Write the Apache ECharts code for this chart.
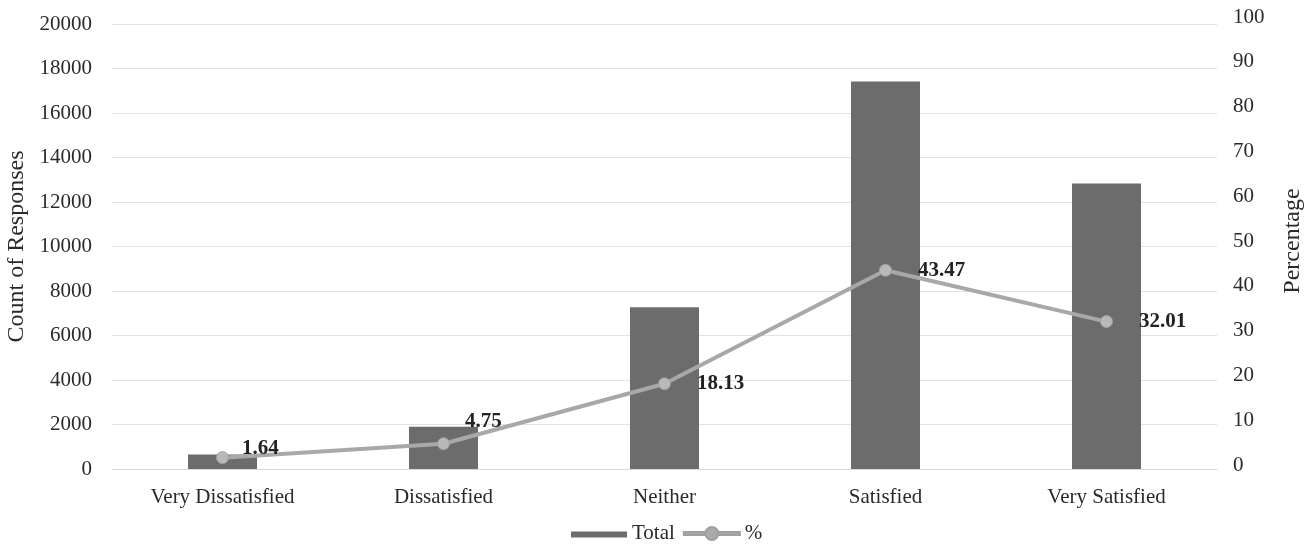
<!DOCTYPE html>
<html><head><meta charset="utf-8">
<script src="https://cdn.jsdelivr.net/npm/echarts@6/dist/echarts.min.js"></script>
<style>html,body{margin:0;padding:0;background:#fff}#c{width:1305px;height:550px}</style>
</head><body><div id="c"></div>
<script>
const categories = ['Very Dissatisfied','Dissatisfied','Neither','Satisfied','Very Satisfied'];
const totals = [657, 1903, 7265, 17418, 12826];
const percents = [1.64, 4.75, 18.13, 43.47, 32.01];
const leftTicks = {min:0, max:20000, interval:2000};
const rightTicks = {min:0, max:100, interval:10};

const labelOffsets = [[-13,-9],[-11,-22],[0,0],[0,0],[0,0]];
const font = 'Liberation Serif';
const txt = '#2a2a2a';
const chart = echarts.init(document.getElementById('c'));
chart.setOption({
  animation:false,
  backgroundColor:'#fff',
  textStyle:{fontFamily:font},
  legend:{
    left:566, top:518, itemWidth:56, itemHeight:13, itemGap:8,
    textStyle:{fontFamily:font, fontSize:21, color:txt},
    data:[
      {name:'Total', icon:'path://M0,0h0.2v0.01h-0.2z M0,4.5h56v6h-56z M0,12.99h0.2v0.01h-0.2z', itemStyle:{color:'#6c6c6c'}},
      {name:'%', icon:'path://M0,5h22v3h-22z M28,13 a6.5,6.5 0 1,1 0.01,0z M34,5h22v3h-22z', itemStyle:{color:'#aaaaaa'}}
    ]
  },
  grid:[
    {left:112, right:88, top:24, bottom:81, containLabel:false, outerBoundsMode:'none'},
    {left:112, right:88, top:17, bottom:85, containLabel:false, outerBoundsMode:'none'}
  ],
  xAxis:[
    {type:'category', gridIndex:0, data:categories,
     axisLine:{lineStyle:{color:'#d9d9d9'}}, axisTick:{show:false},
     axisLabel:{fontFamily:font, fontSize:21, color:txt, margin:18}},
    {type:'category', gridIndex:1, data:categories, show:false}
  ],
  yAxis:[
    {type:'value', gridIndex:0, min:leftTicks.min, max:leftTicks.max, interval:leftTicks.interval,
     name:'Count of Responses', nameLocation:'middle', nameGap:77, nameRotate:90,
     nameTextStyle:{fontFamily:font, fontSize:24, color:txt},
     axisLine:{show:false}, axisTick:{show:false},
     axisLabel:{fontFamily:font, fontSize:21, color:txt, margin:20, formatter:v=>String(v)},
     splitLine:{lineStyle:{color:'#e2e2e2', width:1}}},
    {type:'value', gridIndex:1, position:'right', min:rightTicks.min, max:rightTicks.max, interval:rightTicks.interval,
     name:'Percentage', nameLocation:'middle', nameGap:64, nameRotate:90,
     nameTextStyle:{fontFamily:font, fontSize:24, color:txt},
     axisLine:{show:false}, axisTick:{show:false},
     axisLabel:{fontFamily:font, fontSize:21, color:txt, margin:16},
     splitLine:{show:false}}
  ],
  series:[
    {name:'Total', type:'bar', xAxisIndex:0, yAxisIndex:0, data:totals, barWidth:69,
     itemStyle:{color:'#6c6c6c'}},
    {name:'%', type:'line', xAxisIndex:1, yAxisIndex:1,
     data:percents.map((v,i)=>({value:v, label:{offset:labelOffsets[i]}})),
     symbol:'circle', symbolSize:12,
     lineStyle:{color:'#a8a8a8', width:4},
     itemStyle:{color:'#b9b9b9', borderColor:'#a0a0a0', borderWidth:1},
     label:{show:true, position:'right', distance:26, fontFamily:font, fontSize:21, fontWeight:'bold', color:'#222',
       formatter:p=>p.value.toFixed(2)}}
  ]
});
</script></body></html>
